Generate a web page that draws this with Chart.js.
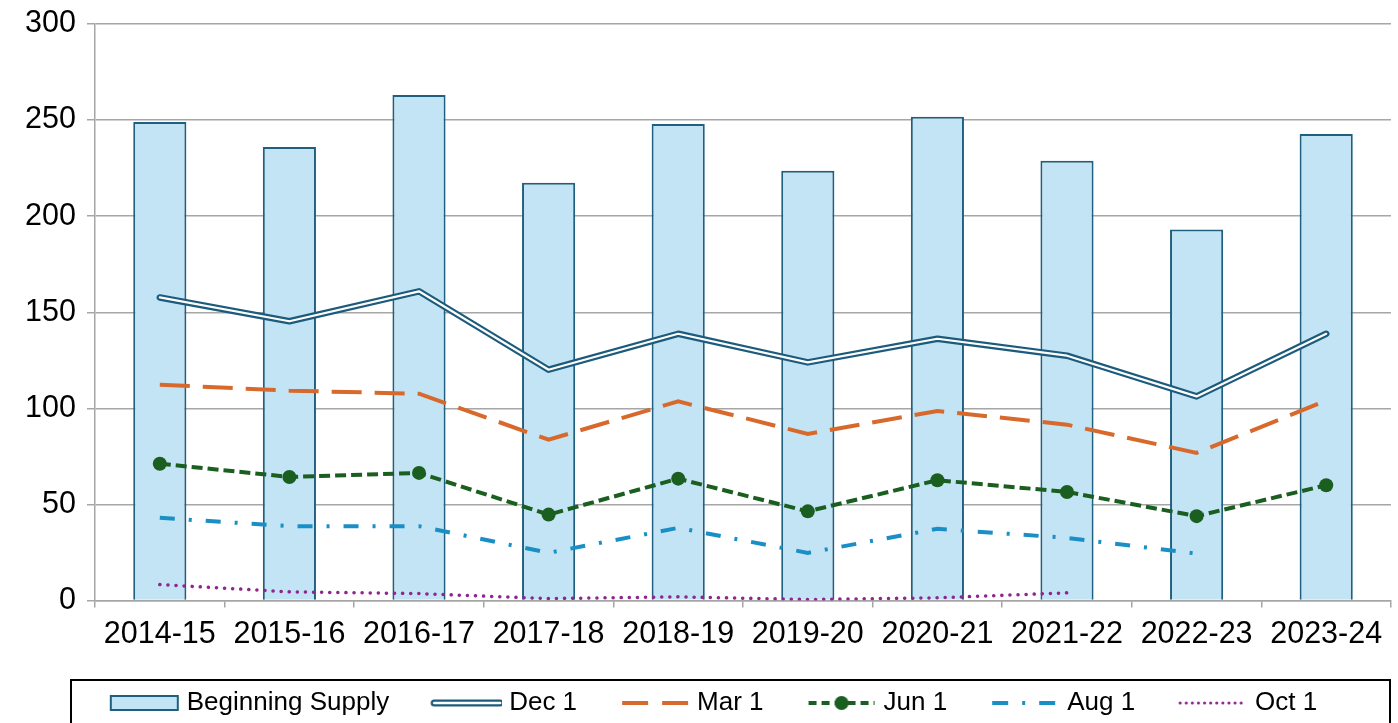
<!DOCTYPE html>
<html>
<head>
<meta charset="utf-8">
<script src="https://cdn.jsdelivr.net/npm/chart.js@4.4.1/dist/chart.umd.min.js"></script>
<style>
  body { margin: 0; background: #fff; }
  #wrap { width: 1398px; height: 723px; }
</style>
</head>
<body>
<div id="wrap"><canvas id="supplyChart" width="1398" height="723"></canvas></div>
<script>
const seasons = ['2014-15', '2015-16', '2016-17', '2017-18', '2018-19', '2019-20', '2020-21', '2021-22', '2022-23', '2023-24'];
const beginningSupply = [249, 236, 263, 217.4, 248, 223.6, 251.7, 228.8, 193, 242.8];
const dec1 = [157.7, 145.3, 160.9, 120.1, 138.8, 123.9, 136.2, 127.4, 106.2, 138.8];
const mar1 = [112.3, 109.2, 107.6, 83.7, 103.6, 86.7, 98.6, 91.5, 76.8, 104];
const jun1 = [71.2, 64.3, 66.4, 44.7, 63.4, 46.4, 62.6, 56.5, 43.9, 60];
const aug1 = [43, 38.7, 38.7, 24.8, 37.8, 24.8, 37.3, 32.6, 24.4, null];
const oct1 = [8.3, 4.5, 3.6, 1, 1.9, 0.5, 1.4, 4, null, null];
const yTicks = [0, 50, 100, 150, 200, 250, 300];

const barFill = '#c2e4f4';
const barEdge = '#1f5f7f';
const decColor = '#1c5b7c';
const marColor = '#d8692c';
const junColor = '#1a5e20';
const augColor = '#1a8fc6';
const octColor = '#8f2690';
const gridColor = '#a6a6a6';
const font = '"Liberation Sans", Arial, sans-serif';

// legend icons drawn on small canvases, icon sits in the right part
const iconBox = 99;
function makeIcon(draw) {
  const c = document.createElement('canvas');
  c.width = iconBox + 12;
  c.height = 24;
  const g = c.getContext('2d');
  draw(g);
  return c;
}
function iconLine(g, color, width, dash, cap) {
  g.strokeStyle = color;
  g.lineWidth = width;
  g.setLineDash(dash);
  g.lineCap = cap || 'butt';
  g.beginPath();
  g.moveTo(43, 12);
  g.lineTo(109, 12);
  g.stroke();
}
const icons = {
  'Beginning Supply': makeIcon(g => {
    g.fillStyle = barFill;
    g.fillRect(42, 5, 67, 14);
    g.strokeStyle = barEdge;
    g.lineWidth = 2;
    g.strokeRect(42, 5, 67, 14);
  }),
  'Dec 1': makeIcon(g => {
    iconLine(g, decColor, 7, [], 'round');
    iconLine(g, '#ffffff', 2.5, [], 'round');
  }),
  'Mar 1': makeIcon(g => iconLine(g, marColor, 4, [26, 14])),
  'Jun 1': makeIcon(g => {
    iconLine(g, junColor, 4, [8, 5]);
    g.fillStyle = junColor;
    g.beginPath();
    g.arc(76, 12, 7, 0, Math.PI * 2);
    g.fill();
  }),
  'Aug 1': makeIcon(g => iconLine(g, augColor, 4, [16, 14, 3, 14])),
  'Oct 1': makeIcon(g => iconLine(g, octColor, 3, [0.1, 6], 'round'))
};

const legendFrame = {
  id: 'legendFrame',
  afterDraw(chart) {
    const ctx = chart.ctx;
    ctx.save();
    ctx.strokeStyle = '#000';
    ctx.lineWidth = 2;
    ctx.strokeRect(71, chart.legend.top - 2, 1319, 60);
    ctx.restore();
  }
};

const ctxSupply = document.getElementById('supplyChart').getContext('2d');
new Chart(ctxSupply, {
  data: {
    labels: seasons,
    datasets: [
      {
        type: 'bar',
        label: 'Beginning Supply',
        data: beginningSupply,
        backgroundColor: barFill,
        borderColor: barEdge,
        borderWidth: 2,
        barPercentage: 0.41,
        categoryPercentage: 1,
        order: 10
      },
      {
        type: 'line',
        label: 'Dec 1',
        data: dec1,
        borderColor: decColor,
        borderWidth: 6.5,
        borderJoinStyle: 'round',
        borderCapStyle: 'round',
        pointRadius: 0,
        tension: 0,
        order: 7
      },
      {
        type: 'line',
        label: 'dec-inner',
        data: dec1,
        borderColor: '#ffffff',
        borderWidth: 2.2,
        borderJoinStyle: 'round',
        borderCapStyle: 'round',
        pointRadius: 0,
        tension: 0,
        order: 6
      },
      {
        type: 'line',
        label: 'Mar 1',
        data: mar1,
        borderColor: marColor,
        borderWidth: 4,
        borderDash: [30, 13],
        pointRadius: 0,
        tension: 0,
        order: 5
      },
      {
        type: 'line',
        label: 'Jun 1',
        data: jun1,
        borderColor: junColor,
        borderWidth: 4,
        borderDash: [11, 5],
        pointRadius: 7,
        pointBackgroundColor: junColor,
        pointBorderColor: junColor,
        pointBorderWidth: 0,
        tension: 0,
        order: 4
      },
      {
        type: 'line',
        label: 'Aug 1',
        data: aug1,
        borderColor: augColor,
        borderWidth: 4,
        borderDash: [15, 14, 3, 14],
        pointRadius: 0,
        tension: 0,
        spanGaps: false,
        order: 3
      },
      {
        type: 'line',
        label: 'Oct 1',
        data: oct1,
        borderColor: octColor,
        borderWidth: 3.5,
        borderDash: [0.1, 8],
        borderCapStyle: 'round',
        pointRadius: 0,
        tension: 0,
        order: 2
      }
    ]
  },
  options: {
    responsive: false,
    animation: false,
    layout: { padding: { top: 24, right: 6, left: 0, bottom: -3 } },
    scales: {
      x: {
        offset: true,
        grid: {
          offset: true,
          drawOnChartArea: false,
          color: gridColor,
          lineWidth: 1.5,
          tickLength: 7
        },
        border: { color: gridColor, width: 1.5 },
        ticks: {
          color: '#000',
          font: { family: font, size: 30.5 },
          padding: 9,
          maxRotation: 0,
          autoSkip: false
        },
        afterFit(scale) { scale.height = 81.5; }
      },
      y: {
        min: 0,
        max: 300,
        afterBuildTicks(scale) { scale.ticks = yTicks.map(v => ({ value: v })); },
        grid: { color: gridColor, lineWidth: 1.5, tickLength: 8 },
        border: { color: gridColor, width: 1.5 },
        ticks: {
          color: '#000',
          font: { family: font, size: 30.5 },
          padding: 11
        },
        afterFit(scale) {
          scale.width = 95;
          scale.paddingTop = 0;
          scale.paddingBottom = 0;
        }
      }
    },
    plugins: {
      tooltip: { enabled: false },
      legend: {
        position: 'bottom',
        labels: {
          color: '#000',
          font: { family: font, size: 26 },
          usePointStyle: true,
          pointStyleWidth: iconBox,
          padding: 8,
          filter: item => item.text !== 'dec-inner',
          sort: (a, b) => a.datasetIndex - b.datasetIndex,
          generateLabels(chart) {
            const items = Chart.defaults.plugins.legend.labels.generateLabels(chart);
            items.forEach(item => { item.pointStyle = icons[item.text]; item.rotation = 0; });
            return items;
          }
        }
      }
    }
  },
  plugins: [legendFrame]
});
</script>
</body>
</html>
